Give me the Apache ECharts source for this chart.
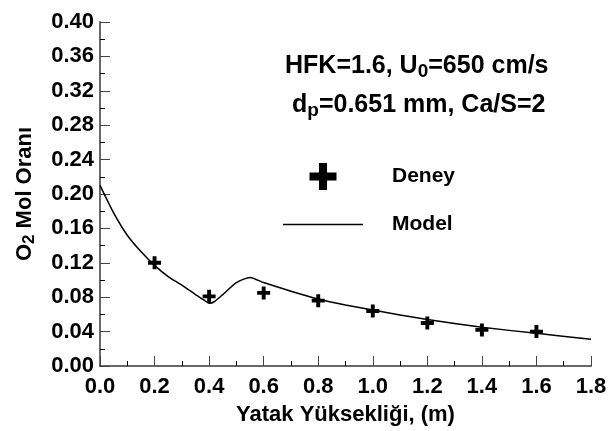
<!DOCTYPE html>
<html>
<head>
<meta charset="utf-8">
<script src="https://cdn.jsdelivr.net/npm/echarts@6/dist/echarts.min.js"></script>
<style>
  html, body { margin: 0; padding: 0; background: #fff; }
  #charts { width: 614px; height: 431px; }
</style>
</head>
<body>
<div id="charts"></div>
<script>
// deney noktalari
var deneyX = [0.2, 0.4, 0.6, 0.8, 1.0, 1.2, 1.4, 1.6];
var deneyY = [0.120, 0.081, 0.085, 0.076, 0.064, 0.050, 0.042, 0.040];
// model egrisi
var modelX = [0, 0.05, 0.1, 0.15, 0.2, 0.25, 0.3, 0.35, 0.38, 0.4, 0.42, 0.45, 0.5, 0.55, 0.6, 0.7, 0.8, 0.9, 1.0, 1.2, 1.4, 1.6, 1.8];
var modelY = [0.210, 0.178, 0.152, 0.133, 0.117, 0.104, 0.094, 0.083, 0.077, 0.073, 0.075, 0.083, 0.097, 0.103, 0.097, 0.087, 0.078, 0.071, 0.065, 0.054, 0.045, 0.038, 0.031];
var xTicks = [0.0, 0.2, 0.4, 0.6, 0.8, 1.0, 1.2, 1.4, 1.6, 1.8];
var yTicks = [0.00, 0.04, 0.08, 0.12, 0.16, 0.20, 0.24, 0.28, 0.32, 0.36, 0.40];

var plus = 'path://M7,0H13V7H20V13H13V20H7V13H0V7H7Z';
var cizgi = 'path://M0,0H80V1.5H0Z';
var font = '"Liberation Sans", Arial, sans-serif';

function pairs(xs, ys) {
	return xs.map(function (x, i) { return [x, ys[i]]; });
}

var richAlt = {
	a: { fontSize: 25, fontWeight: 'bold', fill: '#000', fontFamily: font },
	s: { fontSize: 19, fontWeight: 'bold', fill: '#000', fontFamily: font, padding: [10, 0, 0, 0] }
};

var myChart = echarts.init(document.getElementById('charts'));
myChart.setOption({
	animation: false,
	textStyle: { fontFamily: font },
	grid: { left: 100, top: 22, right: 23, bottom: 65, containLabel: false, outerBoundsMode: 'none' },
	legend: {
		orient: 'vertical',
		left: 283,
		top: 163,
		padding: 0,
		itemWidth: 80,
		itemHeight: 27,
		itemGap: 24,
		textStyle: { fontSize: 21, fontWeight: 'bold', color: '#000', padding: [0, 0, 0, 24] },
		data: [
			{ name: 'Deney', icon: plus },
			{ name: 'Model', icon: cizgi }
		]
	},
	xAxis: [{
		type: 'value',
		min: xTicks[0],
		max: xTicks[xTicks.length - 1],
		interval: 0.2,
		axisLine: { lineStyle: { color: '#000', width: 1.5 } },
		axisTick: { inside: true, length: 10, lineStyle: { color: '#444' } },
		minorTick: { show: true, splitNumber: 2, length: 5, lineStyle: { color: '#000' } },
		splitLine: { show: false },
		axisLabel: {
			margin: 10, fontSize: 22, fontWeight: 'bold', color: '#000',
			formatter: function (v) { return v.toFixed(1); }
		},
		name: 'Yatak Yüksekliği, (m)',
		nameLocation: 'middle',
		nameGap: 38,
		nameTextStyle: { fontSize: 22, fontWeight: 'bold', color: '#000' }
	}, {
		type: 'value', position: 'top', min: 0, max: 1.8,
		axisLine: { show: true, lineStyle: { color: '#777', width: 1.5 } },
		axisTick: { show: false }, axisLabel: { show: false }, splitLine: { show: false }
	}],
	yAxis: [{
		type: 'value',
		min: yTicks[0],
		max: yTicks[yTicks.length - 1],
		interval: 0.04,
		axisLine: { show: true, lineStyle: { color: '#000', width: 1.5 } },
		axisTick: { show: true, inside: true, length: 10, lineStyle: { color: '#444' } },
		minorTick: { show: true, splitNumber: 2, length: 5, lineStyle: { color: '#000' } },
		splitLine: { show: false },
		axisLabel: {
			margin: 6, fontSize: 22, fontWeight: 'bold', color: '#000',
			formatter: function (v) { return v.toFixed(2); }
		},
		name: '{a|O}{s|2}{a| Mol Oranı}',
		nameLocation: 'middle',
		nameGap: 62,
		nameTextStyle: {
			rich: {
				a: { fontSize: 22, fontWeight: 'bold', color: '#000', fontFamily: font },
				s: { fontSize: 17, fontWeight: 'bold', color: '#000', fontFamily: font, padding: [9, 0, 0, 0] }
			}
		}
	}, {
		type: 'value', position: 'right', min: 0, max: 0.4,
		axisLine: { show: true, lineStyle: { color: '#777', width: 1.5 } },
		axisTick: { show: false }, axisLabel: { show: false }, splitLine: { show: false }
	}],
	graphic: [{
		type: 'text',
		left: 285,
		top: 54,
		style: { text: '{a|HFK=1.6, U}{s|0}{a|=650 cm/s}', rich: richAlt }
	}, {
		type: 'text',
		left: 292,
		top: 93,
		style: { text: '{a|d}{s|p}{a|=0.651 mm, Ca/S=2}', rich: richAlt }
	}],
	series: [{
		name: 'Model',
		type: 'line',
		data: pairs(modelX, modelY),
		symbol: 'none',
		smooth: 0.2,
		lineStyle: { color: '#000', width: 1.5 },
		itemStyle: { color: '#000' }
	}, {
		name: 'Deney',
		type: 'scatter',
		data: pairs(deneyX, deneyY),
		symbol: plus,
		symbolSize: 13,
		itemStyle: { color: '#000', opacity: 1 }
	}]
});
</script>
</body>
</html>
